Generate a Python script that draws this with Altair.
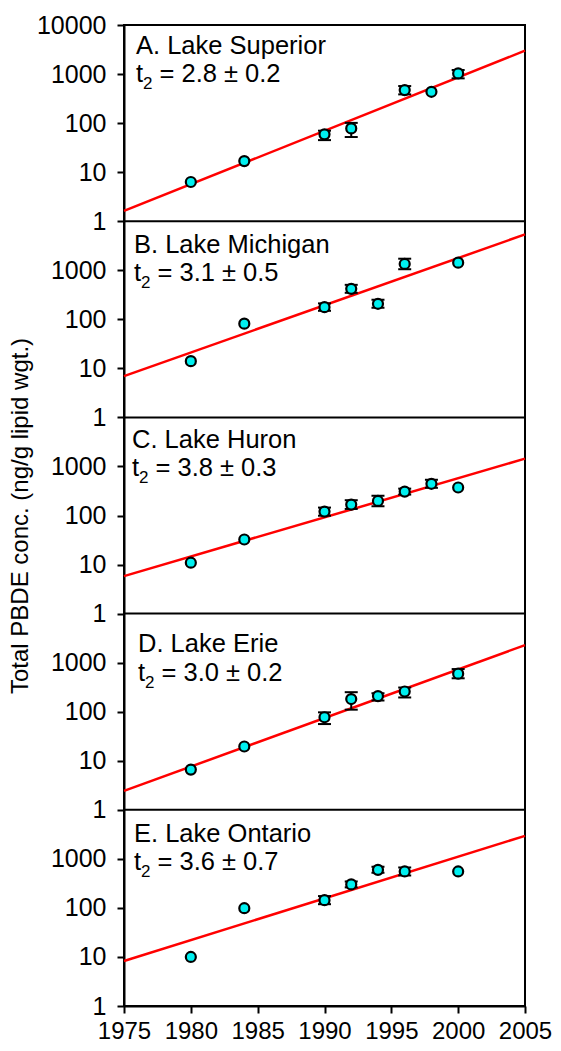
import altair as alt
import pandas as pd

# ---------------- data ----------------
lake_names = ["A. Lake Superior", "B. Lake Michigan", "C. Lake Huron",
              "D. Lake Erie", "E. Lake Ontario"]
t2_values = ["= 2.8 ± 0.2", "= 3.1 ± 0.5", "= 3.8 ± 0.3",
             "= 3.0 ± 0.2", "= 3.6 ± 0.7"]
y_title = "Total PBDE conc. (ng/g lipid wgt.)"
x_ticks = [1975, 1980, 1985, 1990, 1995, 2000, 2005]

fit_years = [1975, 2005]
fit_A = [1.62, 2992]
fit_B = [6.95, 5370]
fit_C = [5.82, 1443]
fit_D = [2.43, 2280]
fit_E = [8.28, 2944]

years_A = [1980, 1984, 1990, 1992, 1996, 1998, 2000]
conc_A = [6.3, 16.8, 59, 78, 471, 435, 1030]
lo_A = [6.3, 16.8, 45, 52, 385, 435, 817]
hi_A = [6.3, 16.8, 70, 101, 569, 435, 1208]

years_B = [1980, 1984, 1990, 1992, 1994, 1996, 2000]
conc_B = [14.0, 81.5, 177, 418, 207, 1343, 1430]
lo_B = [14.0, 81.5, 149, 347, 172, 1049, 1430]
hi_B = [14.0, 81.5, 211, 504, 249, 1719, 1430]

years_C = [1980, 1984, 1990, 1992, 1994, 1996, 1998, 2000]
conc_C = [10.9, 32.4, 120, 167, 198, 307, 443, 372]
lo_C = [10.9, 32.4, 99, 136, 155, 267, 367, 372]
hi_C = [10.9, 32.4, 145, 205, 253, 353, 535, 372]

years_D = [1980, 1984, 1990, 1992, 1994, 1996, 2000]
conc_D = [6.6, 19.5, 77, 181, 208, 258, 597]
lo_D = [6.6, 19.5, 56, 110, 169, 195, 480]
hi_D = [6.6, 19.5, 97, 250, 239, 311, 740]

years_E = [1980, 1984, 1990, 1992, 1994, 1996, 2000]
conc_E = [10, 98.6, 144, 301, 597, 553, 553]
lo_E = [10, 98.6, 119, 262, 519, 458, 553]
hi_E = [10, 98.6, 174, 346, 687, 667, 553]

# ---------------- assemble tables ----------------
series = [
    (years_A, conc_A, lo_A, hi_A, fit_A),
    (years_B, conc_B, lo_B, hi_B, fit_B),
    (years_C, conc_C, lo_C, hi_C, fit_C),
    (years_D, conc_D, lo_D, hi_D, fit_D),
    (years_E, conc_E, lo_E, hi_E, fit_E),
]
NP = len(series)          # panels, stacked top (A) to bottom (E)
DEC = 4                   # decades per panel (1 .. 10000)
TOP = DEC * NP

pts_rows, fit_rows = [], []
for p, (yrs, c, lo, hi, fit) in enumerate(series):
    off = DEC * (NP - 1 - p)
    for yr, cv, l, h in zip(yrs, c, lo, hi):
        pts_rows.append({"lake": lake_names[p], "off": off, "year": yr,
                         "conc": cv, "lo": l, "hi": h})
    for yr, fv in zip(fit_years, fit):
        fit_rows.append({"lake": lake_names[p], "off": off, "year": yr,
                         "conc": fv})
pts_df = pd.DataFrame(pts_rows)
fit_df = pd.DataFrame(fit_rows)
bound_df = pd.DataFrame({"b": [DEC * k for k in range(1, NP)]})

# ---------------- layout / style ----------------
FONT = "Liberation Sans"
FS = 25.5
# (x offset, name baseline, t2 baseline) relative to each panel's top-left
label_pos = [(12, 29, 57), (10, 32, 60), (8, 31, 59), (14, 38, 67), (10, 32, 60)]

xscale = alt.Scale(domain=[1975, 2005], nice=False, zero=False)
yscale = alt.Scale(domain=[0, TOP], nice=False, zero=False)
xaxis = alt.Axis(values=x_ticks, format="d", title=None, labelFlush=False,
                 labelPadding=6, labelFontSize=24)
yaxis = alt.Axis(values=list(range(TOP + 1)), title=y_title,
                 labelExpr=("datum.value == %d ? '10000' : "
                            "'' + pow(10, datum.value %% %d)") % (TOP, DEC),
                 labelFontSize=25,
                 titleX=-104, titleAngle=270,
                 titleBaseline="middle", titleAlign="center")

X = alt.X("year:Q", scale=xscale, axis=xaxis)


def Y(field):
    return alt.Y(field + ":Q", scale=yscale, axis=yaxis)


logy = "log(datum.conc) / LN10 + datum.off"

bounds = alt.Chart(bound_df).mark_rule(color="black", strokeWidth=2).encode(
    y=Y("b"), x=alt.value(0), x2=alt.value("width"))

fits = alt.Chart(fit_df).transform_calculate(yv=logy).mark_line(
    color="#FF0000", strokeWidth=2.5).encode(x=X, y=Y("yv"), detail="lake:N")

err = alt.Chart(pts_df).transform_filter("datum.hi > datum.lo").transform_calculate(
    ylo="log(datum.lo) / LN10 + datum.off",
    yhi="log(datum.hi) / LN10 + datum.off")
rule = err.mark_rule(color="black", strokeWidth=2).encode(
    x=X, y=Y("ylo"), y2="yhi:Q")
cap_lo = err.mark_tick(color="black", orient="horizontal", size=13,
                       thickness=2, opacity=1).encode(x=X, y=Y("ylo"))
cap_hi = err.mark_tick(color="black", orient="horizontal", size=13,
                       thickness=2, opacity=1).encode(x=X, y=Y("yhi"))

pts = alt.Chart(pts_df).transform_calculate(yv=logy).mark_point(
    shape="circle", filled=True, size=100, fill="#00F0F0", stroke="black",
    strokeWidth=2.2, opacity=1).encode(x=X, y=Y("yv"))

layers = [bounds, fits, rule, cap_lo, cap_hi, pts]
for p in range(NP):
    px, b1, b2 = label_pos[p]
    ptop = alt.YDatum(TOP - DEC * p, type="quantitative", scale=yscale)
    ldf = pd.DataFrame({"name": [lake_names[p]], "t": ["t"], "sub": ["2"],
                        "eq": [t2_values[p]]})
    base = alt.Chart(ldf)
    kw = dict(align="left", baseline="alphabetic", font=FONT, color="black")
    layers += [
        base.mark_text(fontSize=FS, dy=b1, **kw).encode(
            text="name:N", x=alt.value(px), y=ptop),
        base.mark_text(fontSize=FS, dy=b2, **kw).encode(
            text="t:N", x=alt.value(px), y=ptop),
        base.mark_text(fontSize=17, dy=b2 + 7, **kw).encode(
            text="sub:N", x=alt.value(px + 7), y=ptop),
        base.mark_text(fontSize=FS, dy=b2, **kw).encode(
            text="eq:N", x=alt.value(px + 23.5), y=ptop),
    ]

chart = alt.layer(*layers).properties(
    width=545, height=1035,
    autosize=alt.AutoSizeParams(type="fit", contains="padding"),
    padding={"left": 0, "top": 5, "right": 1, "bottom": 0}
).configure_view(
    stroke="black", strokeWidth=2
).configure_axis(
    grid=False, domainColor="black", domainWidth=2, tickColor="black",
    tickWidth=2, tickSize=7, labelFont=FONT, labelFontSize=FS,
    labelColor="black", labelPadding=11, labelOverlap=False,
    titleFont=FONT, titleFontSize=24, titleFontWeight="normal",
    titleColor="black"
)

chart.save("out.html", embed_options={"renderer": "svg", "actions": False})
